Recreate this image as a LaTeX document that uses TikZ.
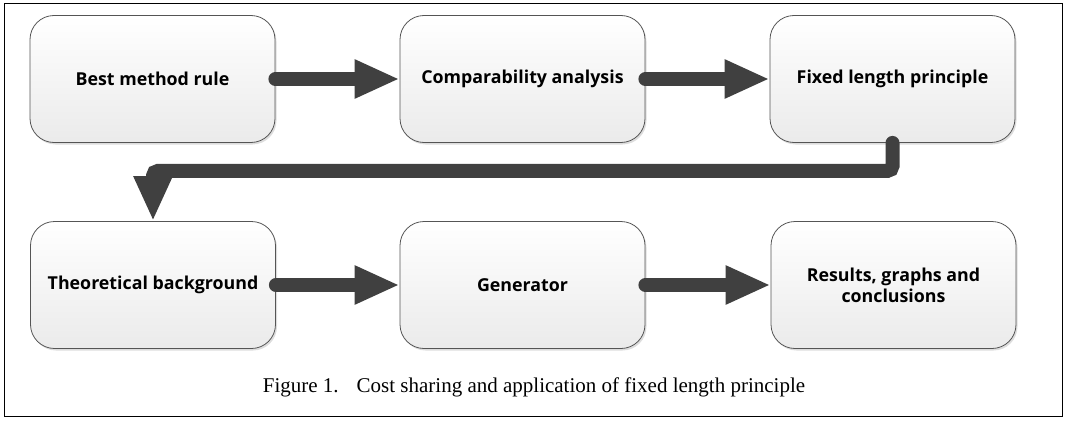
\documentclass[tikz,border=0pt]{standalone}
\usepackage{fontspec}
\setmainfont{Liberation Serif}
\newfontfamily\boxfont{Open Sans}
\usetikzlibrary{arrows.meta,shadows}
\definecolor{arrowgray}{HTML}{404040}
\definecolor{boxedge}{HTML}{555555}
\tikzset{
  stepbox/.style={draw=boxedge, line width=0.8pt, rounded corners=24pt,
    minimum width=245pt, minimum height=127pt, top color=white, bottom color=gray!16,
    drop shadow={shadow xshift=1.5pt, shadow yshift=-2pt, fill=gray!45, opacity=0.6},
    font=\boxfont\bfseries\fontsize{17.8pt}{21pt}\selectfont, align=center, text=black},
  flow/.style={draw=arrowgray, line width=14pt, line cap=round, rounded corners=5pt,
    -{Triangle[length=45pt,width=36pt]}, arrowgray},
}
\begin{document}
\begin{tikzpicture}[x=1pt,y=-1pt]
\useasboundingbox (0,0) rectangle (1067,420);
\draw[line width=1.8pt] (4.5,3.5) rectangle (1062.5,416.5);
\node[stepbox] (b1) at (152.5,79) {Best method rule};
\node[stepbox] (b2) at (522.5,79) {Comparability analysis};
\node[stepbox] (b3) at (892.5,79) {Fixed length principle};
\node[stepbox] (b4) at (153,285) {Theoretical background};
\node[stepbox] (b5) at (522.5,285) {Generator};
\node[stepbox] (b6) at (893.5,285) {Results, graphs and\\conclusions};
\draw[flow] (b1.east) -- (b2.west);
\draw[flow] (b2.east) -- (b3.west);
\draw[flow] (b3.south) -- ++(0,28) -| (b4.north);
\draw[flow] (b4.east) -- (b5.west);
\draw[flow] (b5.east) -- (b6.west);
\node[font=\fontsize{21pt}{25pt}\selectfont, anchor=base] (cap) at (534,392) {Figure 1.\hspace{18pt}Cost sharing and application of fixed length principle};
\end{tikzpicture}
\end{document}
